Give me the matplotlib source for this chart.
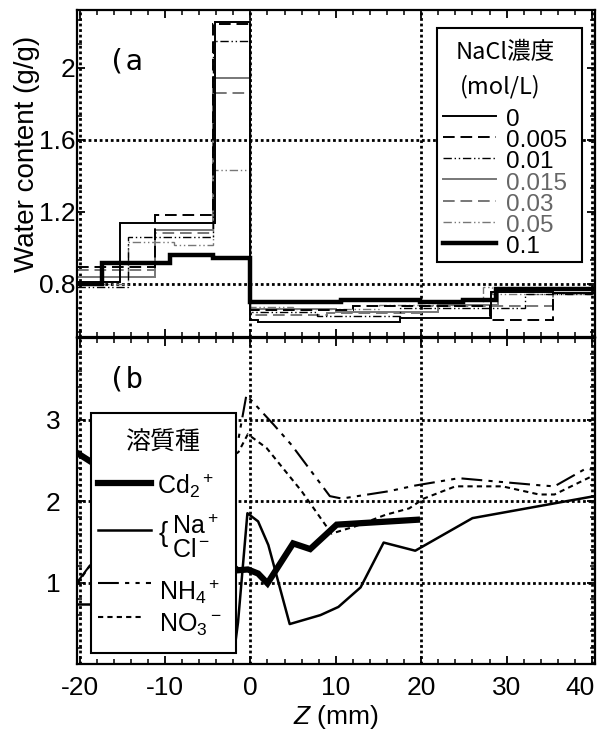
import matplotlib
matplotlib.use("Agg")
import matplotlib.pyplot as plt
import matplotlib.transforms as mtransforms
from matplotlib.patches import Rectangle
from matplotlib.ticker import MultipleLocator, AutoMinorLocator, FixedLocator, FuncFormatter

plt.rcParams['font.family'] = ['Liberation Sans', 'Noto Sans CJK JP']
plt.rcParams['mathtext.fontset'] = 'custom'
plt.rcParams['mathtext.rm'] = 'Liberation Sans'
plt.rcParams['mathtext.it'] = 'Liberation Sans:italic'
plt.rcParams['mathtext.default'] = 'regular'
plt.rcParams['axes.unicode_minus'] = False

# ---- (a) water content, step profiles for each NaCl concentration ----
nacl_labels = ['0', '0.005', '0.01', '0.015', '0.03', '0.05', '0.1']

edges_0 = [-20.3, -15.3, -4.1, 0, 0.9, 17.5, 28.2, 35.4, 40.3]
water_0 = [0.81, 1.135, 2.255, 0.60, 0.587, 0.61, 0.757, 0.75]

edges_0005 = [-20.3, -11.2, -4.4, 0, 12, 28, 35.4, 40.3]
water_0005 = [0.895, 1.18, 2.24, 0.655, 0.675, 0.60, 0.75]

edges_001 = [-20.3, -14.3, -4.4, 0, 7.8, 17.5, 32.1, 40.3]
water_001 = [0.785, 1.06, 2.15, 0.645, 0.62, 0.665, 0.745]

edges_0015 = [-20.3, -11.2, -4.4, 0, 10, 22, 29, 40.3]
water_0015 = [0.84, 1.10, 1.945, 0.66, 0.645, 0.685, 0.765]

edges_003 = [-20.3, -11.2, -4.4, 0, 9, 20, 29, 35.4, 40.3]
water_003 = [0.875, 1.08, 1.86, 0.625, 0.64, 0.675, 0.675, 0.75]

edges_005 = [-20.3, -14.3, -9, -4.4, 0, 5, 15, 27.2, 28.3, 40.3]
water_005 = [0.80, 1.034, 1.015, 1.43, 0.67, 0.66, 0.68, 0.78, 0.745]

edges_01 = [-20.3, -17.4, -9.4, -4.4, 0, 10.6, 19.8, 24.9, 28.8, 40.3]
water_01 = [0.80, 0.914, 0.96, 0.944, 0.70, 0.712, 0.70, 0.712, 0.772]

# ---- (b) solute profiles ----
z_cd = [-20.3, -18.5, -12, -6, -1.5, -0.3, 0.9, 2.0, 5.0, 7.0, 10.1, 19.5]
c_cd = [2.59, 2.47, 2.0, 1.55, 1.15, 1.16, 1.11, 0.99, 1.48, 1.41, 1.71, 1.77]

z_nacl = [-20.3, -18, -12, -6, -1.9, -1.45, -0.35, 0.9, 2.1, 4.6, 8.2, 10.3, 12.9,
          15.6, 19.3, 26, 40.3]
c_nacl = [0.73, 0.73, 0.6, 0.4, 0.15, 0.51, 1.85, 1.75, 1.46, 0.49, 0.6, 0.70, 0.94,
          1.49, 1.39, 1.79, 2.06]

z_nh4 = [-20.3, -18.5, -12, -6, -1.45, -0.47, 2.7, 4.8, 9.3, 10.7, 16.2, 19.3, 24.4,
         28.7, 34.2, 35.6, 39.3, 40.3]
c_nh4 = [1.0, 1.25, 1.9, 2.4, 2.73, 3.3, 2.94, 2.69, 2.06, 2.03, 2.12, 2.19, 2.28,
         2.24, 2.19, 2.18, 2.40, 2.38]

z_no3 = [-20.3, -18.5, -12, -6, -1.4, -0.3, 1.9, 6.0, 9.5, 12.3, 15.8, 18.6, 20.3,
         24.0, 29.5, 33.8, 35.6, 40.3]
c_no3 = [0.98, 1.25, 1.8, 2.3, 2.6, 2.82, 2.65, 2.12, 1.60, 1.69, 1.83, 1.91, 2.03,
         2.18, 2.18, 2.08, 2.08, 2.32]

grey = '#777777'
styles_a = [
    dict(color='black', lw=1.4, ls='-'),
    dict(color='black', lw=1.4, ls=(0, (6, 3))),
    dict(color='black', lw=1.0, ls=(0, (6, 2, 1, 2, 1, 2))),
    dict(color=grey, lw=1.4, ls='-'),
    dict(color=grey, lw=1.4, ls=(0, (6, 3))),
    dict(color=grey, lw=1.0, ls=(0, (6, 2, 1, 2, 1, 2))),
    dict(color='black', lw=3.2, ls='-'),
]
text_colors_a = ['black', 'black', 'black', '#666666', '#666666', '#666666', 'black']

style_cd = dict(color='black', lw=4.5, ls='-')
style_nacl = dict(color='black', lw=1.8, ls='-')
style_nh4 = dict(color='black', lw=1.5, ls=(0, (10, 3, 2, 3, 2, 3)))
style_no3 = dict(color='black', lw=1.5, ls=(0, (2.5, 2)))

dot = dict(color='black', lw=2.0, ls=(0, (1, 1)), zorder=1)

fig = plt.figure(figsize=(5.97, 7.35), dpi=100)
ax_a = fig.add_axes([0.129, 0.5415, 0.867, 0.4449])
ax_b = fig.add_axes([0.129, 0.0966, 0.867, 0.4435])


def style_axes(ax, ypad):
    for s in ax.spines.values():
        s.set_linewidth(1.6)
    ax.set_xlim(-20.3, 40.3)
    ax.xaxis.set_major_locator(MultipleLocator(10))
    ax.xaxis.set_minor_locator(MultipleLocator(2))
    ax.tick_params(which='both', direction='in', top=True, right=True, labelsize=19)
    ax.tick_params(which='major', length=6, width=1.3)
    ax.tick_params(which='minor', length=3.5, width=1.1)
    ax.tick_params(axis='y', pad=ypad)
    for xv in [-20, 0, 20, 40]:
        ax.axvline(xv, **dot)


# panel (a)
edges_all = [edges_0, edges_0005, edges_001, edges_0015, edges_003, edges_005, edges_01]
water_all = [water_0, water_0005, water_001, water_0015, water_003, water_005, water_01]
order = [3, 4, 5, 0, 1, 2, 6]
for i in order:
    ax_a.stairs(water_all[i], edges_all[i], baseline=None, zorder=2, **styles_a[i])
style_axes(ax_a, 1)
ax_a.set_ylim(0.505, 2.32)
ax_a.yaxis.set_major_locator(MultipleLocator(0.4))
ax_a.yaxis.set_minor_locator(AutoMinorLocator(3))
ax_a.yaxis.set_major_formatter(FuncFormatter(lambda v, p: '%g' % v))
ax_a.tick_params(labelbottom=False)
for yv in [0.8, 1.6]:
    ax_a.axhline(yv, **dot)
ax_a.set_ylabel('Water content (g/g)', fontsize=20)
ax_a.yaxis.set_label_coords(-0.072, 0.56)
ax_a.text(0.06, 0.841, '(a', transform=ax_a.transAxes, fontsize=21,
          family='DejaVu Sans Mono', va='center', ha='left')

# legend (a)
T = ax_a.transAxes
ax_a.add_patch(Rectangle((0.6956, 0.2303), 0.2807, 0.7137, transform=T,
                         facecolor='white', edgecolor='black', lw=1.5, zorder=5))
ax_a.text(0.828, 0.869, 'NaCl濃度', transform=T, ha='center', va='center',
          fontsize=17, family='Noto Sans CJK JP', zorder=6)
ax_a.text(0.818, 0.765, '(mol/L)', transform=T, ha='center', va='center',
          fontsize=17, family='Noto Sans CJK JP', zorder=6)
row_top, row_step = 0.672, 0.0647
for i in range(len(nacl_labels)):
    yc = row_top - i * row_step
    ax_a.plot([0.707, 0.810], [yc + 0.004] * 2, transform=T, clip_on=False,
              zorder=6, **styles_a[i])
    ax_a.text(0.8295, yc - 0.027, nacl_labels[i], transform=T, ha='left',
              va='baseline', fontsize=17.5, color=text_colors_a[i], zorder=6)

# panel (b)
ax_b.plot(z_nacl, c_nacl, zorder=2, **style_nacl)
ax_b.plot(z_nh4, c_nh4, zorder=2, **style_nh4)
ax_b.plot(z_no3, c_no3, zorder=2, **style_no3)
ax_b.plot(z_cd, c_cd, zorder=3, solid_joinstyle='miter', **style_cd)
style_axes(ax_b, 12)
ax_b.set_ylim(0, 4)
ax_b.yaxis.set_major_locator(FixedLocator([1, 2, 3]))
ax_b.yaxis.set_minor_locator(MultipleLocator(0.2))
for yv in [0, 1, 2, 3]:
    ax_b.axhline(yv, **dot)
ax_b.tick_params(axis='x', pad=9)
ax_b.set_xlabel(r'$\mathit{Z}$ (mm)', fontsize=19, labelpad=2)
ax_b.text(0.06, 0.874, '(b', transform=ax_b.transAxes, fontsize=21,
          family='DejaVu Sans Mono', va='center', ha='left')

# legend (b)
T = ax_b.transAxes
ax_b.add_patch(Rectangle((0.0266, 0.0337), 0.2802, 0.7363, transform=T,
                         facecolor='white', edgecolor='black', lw=1.5, zorder=5))
ax_b.text(0.166, 0.678, '溶質種', transform=T, ha='center', va='center',
          fontsize=18, family='Noto Sans CJK JP', zorder=6)
ax_b.plot([0.041, 0.142], [0.554] * 2, transform=T, clip_on=False, zorder=6, **style_cd)
ax_b.text(0.154, 0.549 - 0.026, r'Cd$_2$$^+$', transform=T, va='baseline',
          fontsize=18, zorder=6)
ax_b.plot([0.041, 0.142], [0.411] * 2, transform=T, clip_on=False, zorder=6, **style_nacl)
ax_b.text(0.158, 0.400, '{', transform=T, va='center', fontsize=20, zorder=6)
ax_b.text(0.1835, 0.426 - 0.026, r'Na$^+$', transform=T, va='baseline',
          fontsize=18, zorder=6)
ax_b.text(0.1835, 0.353 - 0.026, r'Cl$^-$', transform=T, va='baseline',
          fontsize=18, zorder=6)
ax_b.plot([0.041, 0.142], [0.249] * 2, transform=T, clip_on=False, zorder=6, **style_nh4)
ax_b.text(0.158, 0.222 - 0.026, r'NH$_4$$^+$', transform=T, va='baseline',
          fontsize=18, zorder=6)
ax_b.plot([0.041, 0.1285], [0.145] * 2, transform=T, clip_on=False, zorder=6, **style_no3)
ax_b.text(0.158, 0.124 - 0.026, r'NO$_3$$^-$', transform=T, va='baseline',
          fontsize=18, zorder=6)

# keep the last x tick label inside the figure, as in the original
fig.canvas.draw()
for lab in ax_b.get_xticklabels():
    if lab.get_text() == '40':
        lab.set_horizontalalignment('right')
        lab.set_transform(lab.get_transform() +
                          mtransforms.ScaledTranslation(0.03, 0, fig.dpi_scale_trans))

fig.savefig('out.png', dpi=100)
